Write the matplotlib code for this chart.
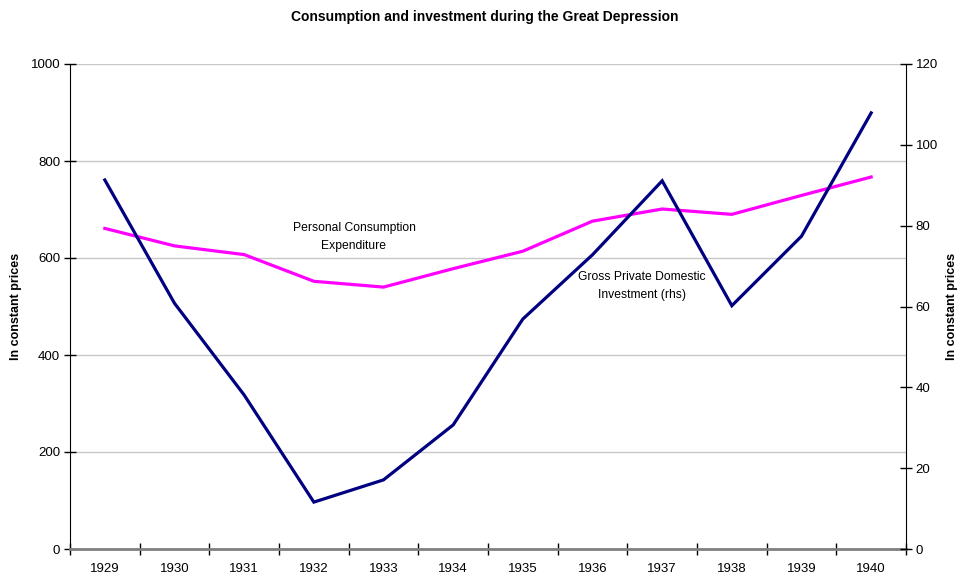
import matplotlib
matplotlib.use("Agg")
import matplotlib.pyplot as plt
import numpy as np

years = ["1929", "1930", "1931", "1932", "1933", "1934", "1935", "1936", "1937", "1938", "1939", "1940"]
consumption = [661, 625, 607, 552, 540, 578, 614, 676, 701, 690, 729, 767]
investment = [91.3, 60.8, 38.1, 11.6, 17.1, 30.7, 56.9, 72.8, 91.1, 60.2, 77.4, 107.9]
left_ticks = [0, 200, 400, 600, 800, 1000]
right_ticks = [0, 20, 40, 60, 80, 100, 120]

plt.rcParams['font.family'] = ['Liberation Sans', 'DejaVu Sans']

fig = plt.figure(figsize=(9.59, 5.77), dpi=100)
ax = fig.add_axes([70/959, 1-549/577, (906-70)/959, (549-64)/577])
ax2 = ax.twinx()

x = np.arange(len(years))
ax.plot(x, consumption, color='#FF00FF', lw=2.3, solid_joinstyle='miter', zorder=3)
ax2.plot(x, investment, color='#000080', lw=2.3, solid_joinstyle='miter', zorder=3)

ax.set_xlim(-0.5, len(years) - 0.5)
ax.set_ylim(0, 1000)
ax2.set_ylim(0, 120)
ax.set_yticks(left_ticks)
ax2.set_yticks(right_ticks)
ax.set_xticks(np.arange(-0.5, len(years)), minor=False)
ax.set_xticklabels([])
ax.set_xticks(x, minor=True)
ax.set_xticklabels(years, minor=True)
ax.tick_params(axis='x', which='major', direction='inout', length=8, width=1, color='black')
ax.tick_params(axis='x', which='minor', length=0, labelsize=9.5, pad=10)
ax.tick_params(axis='y', direction='inout', length=8, width=1, labelsize=9.5, pad=3)
ax2.tick_params(axis='y', direction='inout', length=8, width=1, labelsize=9.5, pad=3)

ax.grid(axis='y', color='#C8C8C8', lw=1)
ax.set_axisbelow(True)
ax.set_zorder(ax2.get_zorder() - 1)
ax2.patch.set_visible(False)
ax.patch.set_visible(True)

for a in (ax, ax2):
    a.spines['top'].set_visible(False)
ax.spines['left'].set_color('black')
ax.spines['right'].set_visible(False)
ax2.spines['left'].set_visible(False)
ax2.spines['right'].set_color('black')
ax2.spines['bottom'].set_visible(False)
ax.spines['bottom'].set_color('#808080')
ax.spines['bottom'].set_linewidth(2)

fig.text(16/959, 1-306/577, 'In constant prices', rotation=90, ha='center', va='center',
         fontsize=9, fontweight='bold')
fig.text(952/959, 1-306/577, 'In constant prices', rotation=90, ha='center', va='center',
         fontsize=9, fontweight='bold')

fig.text(485/959, 1-17/577, 'Consumption and investment during the Great Depression',
         ha='center', va='center', fontsize=10, fontweight='bold')

fig.text(354/959, 1-237/577, 'Personal Consumption\nExpenditure',
         ha='center', va='center', fontsize=8.7, linespacing=1.6)
fig.text(642/959, 1-286/577, 'Gross Private Domestic\nInvestment (rhs)',
         ha='center', va='center', fontsize=8.7, linespacing=1.6)

fig.savefig('out.png', dpi=100)
